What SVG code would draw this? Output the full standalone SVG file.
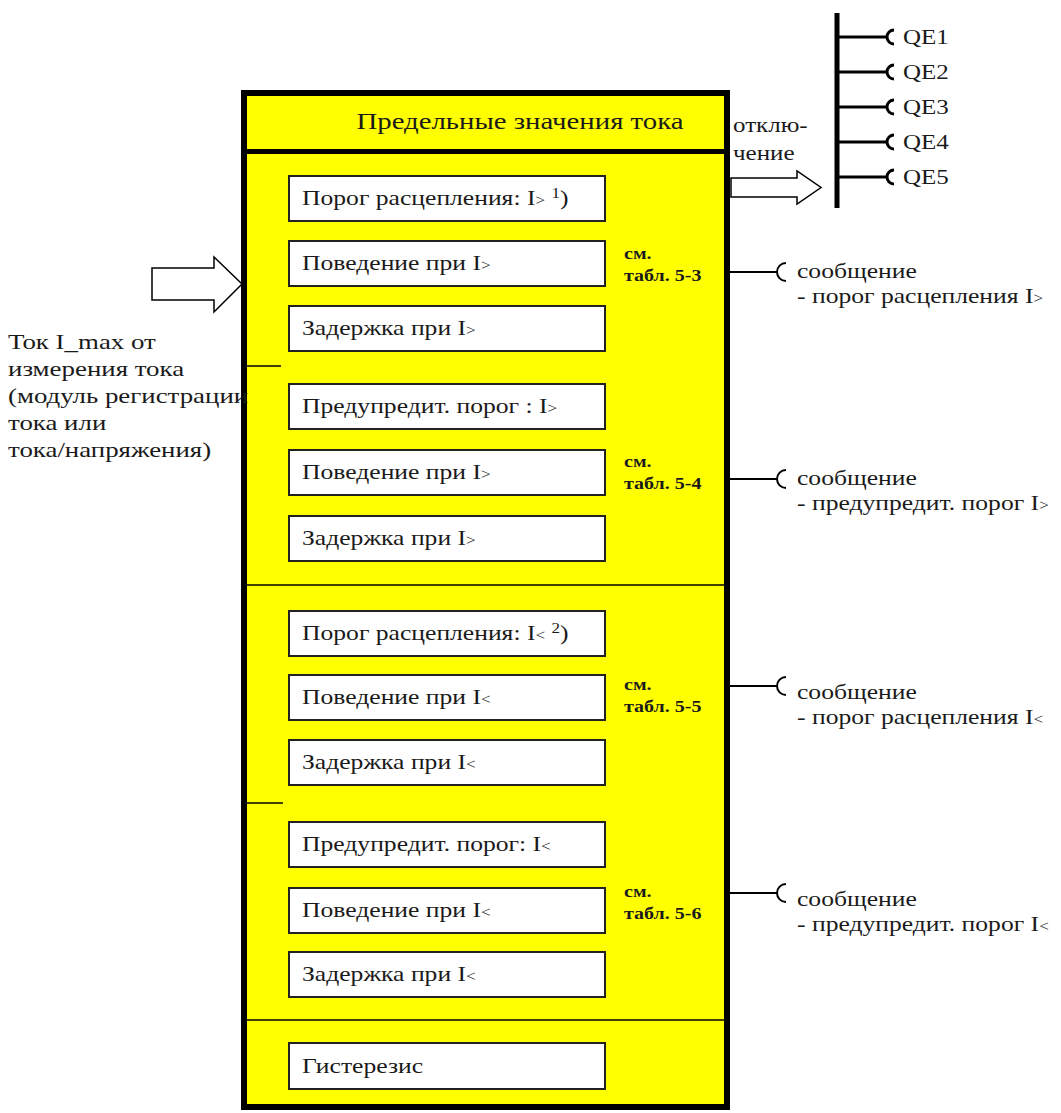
<svg xmlns="http://www.w3.org/2000/svg" width="1061" height="1113" viewBox="0 0 1061 1113" font-family="'Liberation Serif', 'DejaVu Serif', serif">
  <style>
    text { font-family: 'Liberation Serif', 'DejaVu Serif', serif; fill: #1a1a1a; }
    .hdr { font-size: 24px; }
    .lbl { font-size: 21px; }
    .side { font-size: 20px; }
    .note { font-size: 21px; }
    .ref { font-size: 16px; font-weight: bold; }
    .sm { font-size: 14px; }
    .field { fill: #ffffff; stroke: #222; stroke-width: 2; }
    .wire { stroke: #000; stroke-width: 2; fill: none; }
    .plug { stroke: #000; stroke-width: 3; fill: none; }
    .hollow { fill: #ffffff; stroke: #000; stroke-width: 1.5; }
  </style>

  <!-- main block: current limit values -->
  <g id="limits-block">
    <rect x="244" y="93" width="483" height="1014" fill="#ffff00" stroke="#000" stroke-width="6"/>
    <line x1="244" y1="151.5" x2="727" y2="151.5" stroke="#000" stroke-width="5"/>
    <g transform="translate(520 0) scale(1.2 1)">
      <text class="hdr" x="0" y="129" text-anchor="middle">Предельные значения тока</text>
    </g>
    <!-- section dividers -->
    <line x1="247" y1="366" x2="281" y2="366" stroke="#000" stroke-width="1.5"/>
    <line x1="247" y1="585" x2="724" y2="585" stroke="#000" stroke-width="1.5"/>
    <line x1="247" y1="803" x2="283" y2="803" stroke="#000" stroke-width="1.5"/>
    <line x1="247" y1="1020" x2="724" y2="1020" stroke="#000" stroke-width="1.5"/>
  </g>

  <!-- I> trip threshold -->
  <g id="trip-high">
    <rect class="field" x="289" y="176" width="316" height="45"/>
    <rect class="field" x="289" y="241" width="316" height="45"/>
    <rect class="field" x="289" y="306" width="316" height="45"/>
    <g transform="translate(302 0) scale(1.22 1)">
      <text class="lbl" x="0" y="205">Порог расцепления: I<tspan class="sm">&gt;</tspan> <tspan class="sm" dy="-7">1</tspan><tspan dy="7">)</tspan></text>
      <text class="lbl" x="0" y="270">Поведение при I<tspan class="sm">&gt;</tspan></text>
      <text class="lbl" x="0" y="335">Задержка при I<tspan class="sm">&gt;</tspan></text>
    </g>
    <g transform="translate(624 0) scale(1.25 1)">
      <text class="ref" x="0" y="259">см.</text>
      <text class="ref" x="0" y="281">табл. 5-3</text>
    </g>
  </g>

  <!-- I> warning threshold -->
  <g id="warn-high">
    <rect class="field" x="289" y="384" width="316" height="45"/>
    <rect class="field" x="289" y="450" width="316" height="45"/>
    <rect class="field" x="289" y="516" width="316" height="45"/>
    <g transform="translate(302 0) scale(1.22 1)">
      <text class="lbl" x="0" y="413">Предупредит. порог : I<tspan class="sm">&gt;</tspan></text>
      <text class="lbl" x="0" y="479">Поведение при I<tspan class="sm">&gt;</tspan></text>
      <text class="lbl" x="0" y="545">Задержка при I<tspan class="sm">&gt;</tspan></text>
    </g>
    <g transform="translate(624 0) scale(1.25 1)">
      <text class="ref" x="0" y="467">см.</text>
      <text class="ref" x="0" y="489">табл. 5-4</text>
    </g>
  </g>

  <!-- I< trip threshold -->
  <g id="trip-low">
    <rect class="field" x="289" y="611" width="316" height="45"/>
    <rect class="field" x="289" y="675" width="316" height="45"/>
    <rect class="field" x="289" y="740" width="316" height="45"/>
    <g transform="translate(302 0) scale(1.22 1)">
      <text class="lbl" x="0" y="640">Порог расцепления: I<tspan class="sm">&lt;</tspan> <tspan class="sm" dy="-7">2</tspan><tspan dy="7">)</tspan></text>
      <text class="lbl" x="0" y="704">Поведение при I<tspan class="sm">&lt;</tspan></text>
      <text class="lbl" x="0" y="769">Задержка при I<tspan class="sm">&lt;</tspan></text>
    </g>
    <g transform="translate(624 0) scale(1.25 1)">
      <text class="ref" x="0" y="690">см.</text>
      <text class="ref" x="0" y="712">табл. 5-5</text>
    </g>
  </g>

  <!-- I< warning threshold -->
  <g id="warn-low">
    <rect class="field" x="289" y="822" width="316" height="45"/>
    <rect class="field" x="289" y="888" width="316" height="45"/>
    <rect class="field" x="289" y="952" width="316" height="45"/>
    <g transform="translate(302 0) scale(1.22 1)">
      <text class="lbl" x="0" y="851">Предупредит. порог: I<tspan class="sm">&lt;</tspan></text>
      <text class="lbl" x="0" y="917">Поведение при I<tspan class="sm">&lt;</tspan></text>
      <text class="lbl" x="0" y="981">Задержка при I<tspan class="sm">&lt;</tspan></text>
    </g>
    <g transform="translate(624 0) scale(1.25 1)">
      <text class="ref" x="0" y="897">см.</text>
      <text class="ref" x="0" y="919">табл. 5-6</text>
    </g>
  </g>

  <!-- hysteresis -->
  <g id="hysteresis">
    <rect class="field" x="289" y="1043" width="316" height="46"/>
    <g transform="translate(302 0) scale(1.22 1)">
      <text class="lbl" x="0" y="1073">Гистерезис</text>
    </g>
  </g>

  <!-- measured current input -->
  <g id="input-current">
    <g transform="translate(8 0) scale(1.28 1)">
      <text class="note" x="0" y="349">Ток I_max от</text>
      <text class="note" x="0" y="376">измерения тока</text>
      <text class="note" x="0" y="403">(модуль регистрации</text>
      <text class="note" x="0" y="430">тока или</text>
      <text class="note" x="0" y="457">тока/напряжения)</text>
    </g>
  </g>

  <!-- circuit breakers bus -->
  <g id="breakers">
    <line x1="837" y1="13" x2="837" y2="208" stroke="#000" stroke-width="5"/>
    <g transform="translate(903 0) scale(1.25 1)">
      <text class="side" x="0" y="44">QE1</text>
      <text class="side" x="0" y="79">QE2</text>
      <text class="side" x="0" y="114">QE3</text>
      <text class="side" x="0" y="149">QE4</text>
      <text class="side" x="0" y="184">QE5</text>
    </g>
  </g>

  <!-- message outputs -->
  <g id="messages">
    <g transform="translate(797 0) scale(1.22 1)">
      <text class="note" x="0" y="278">сообщение</text>
      <text class="note" x="0" y="303">- порог расцепления I<tspan class="sm">&gt;</tspan></text>
      <text class="note" x="0" y="485">сообщение</text>
      <text class="note" x="0" y="510">- предупредит. порог I<tspan class="sm">&gt;</tspan></text>
      <text class="note" x="0" y="699">сообщение</text>
      <text class="note" x="0" y="724">- порог расцепления I<tspan class="sm">&lt;</tspan></text>
      <text class="note" x="0" y="906">сообщение</text>
      <text class="note" x="0" y="931">- предупредит. порог I<tspan class="sm">&lt;</tspan></text>
    </g>
  </g>

  <g id="connectors">
    <!-- input arrow -->
    <path class="hollow" d="M152 268 H214 V257 L242 284 L214 312 V300 H152 Z"/>
    <!-- trip arrow -->
    <g transform="translate(733 0) scale(1.25 1)">
      <text class="side" x="0" y="132">отклю-</text>
      <text class="side" x="0" y="160">чение</text>
    </g>
    <path class="hollow" d="M731 178 H797 V171 L821 187.5 L797 204 V197 H731 Z"/>
    <!-- bus branches -->
    <path class="plug" d="M837 37 H886 M894 30 A7 7 0 0 0 894 44"/>
    <path class="plug" d="M837 72 H886 M894 65 A7 7 0 0 0 894 79"/>
    <path class="plug" d="M837 107 H886 M894 100 A7 7 0 0 0 894 114" stroke-width="4"/>
    <path class="plug" d="M837 142 H886 M894 135 A7 7 0 0 0 894 149" stroke-width="4"/>
    <path class="plug" d="M837 177 H886 M894 170 A7 7 0 0 0 894 184"/>
    <!-- message lines -->
    <path class="wire" d="M730 272 H777 M786 263 A9 9 0 0 0 786 281"/>
    <path class="wire" d="M730 479 H777 M786 470 A9 9 0 0 0 786 488"/>
    <path class="wire" d="M730 686 H777 M786 677 A9 9 0 0 0 786 695"/>
    <path class="wire" d="M730 893 H777 M786 884 A9 9 0 0 0 786 902"/>
  </g>
</svg>
